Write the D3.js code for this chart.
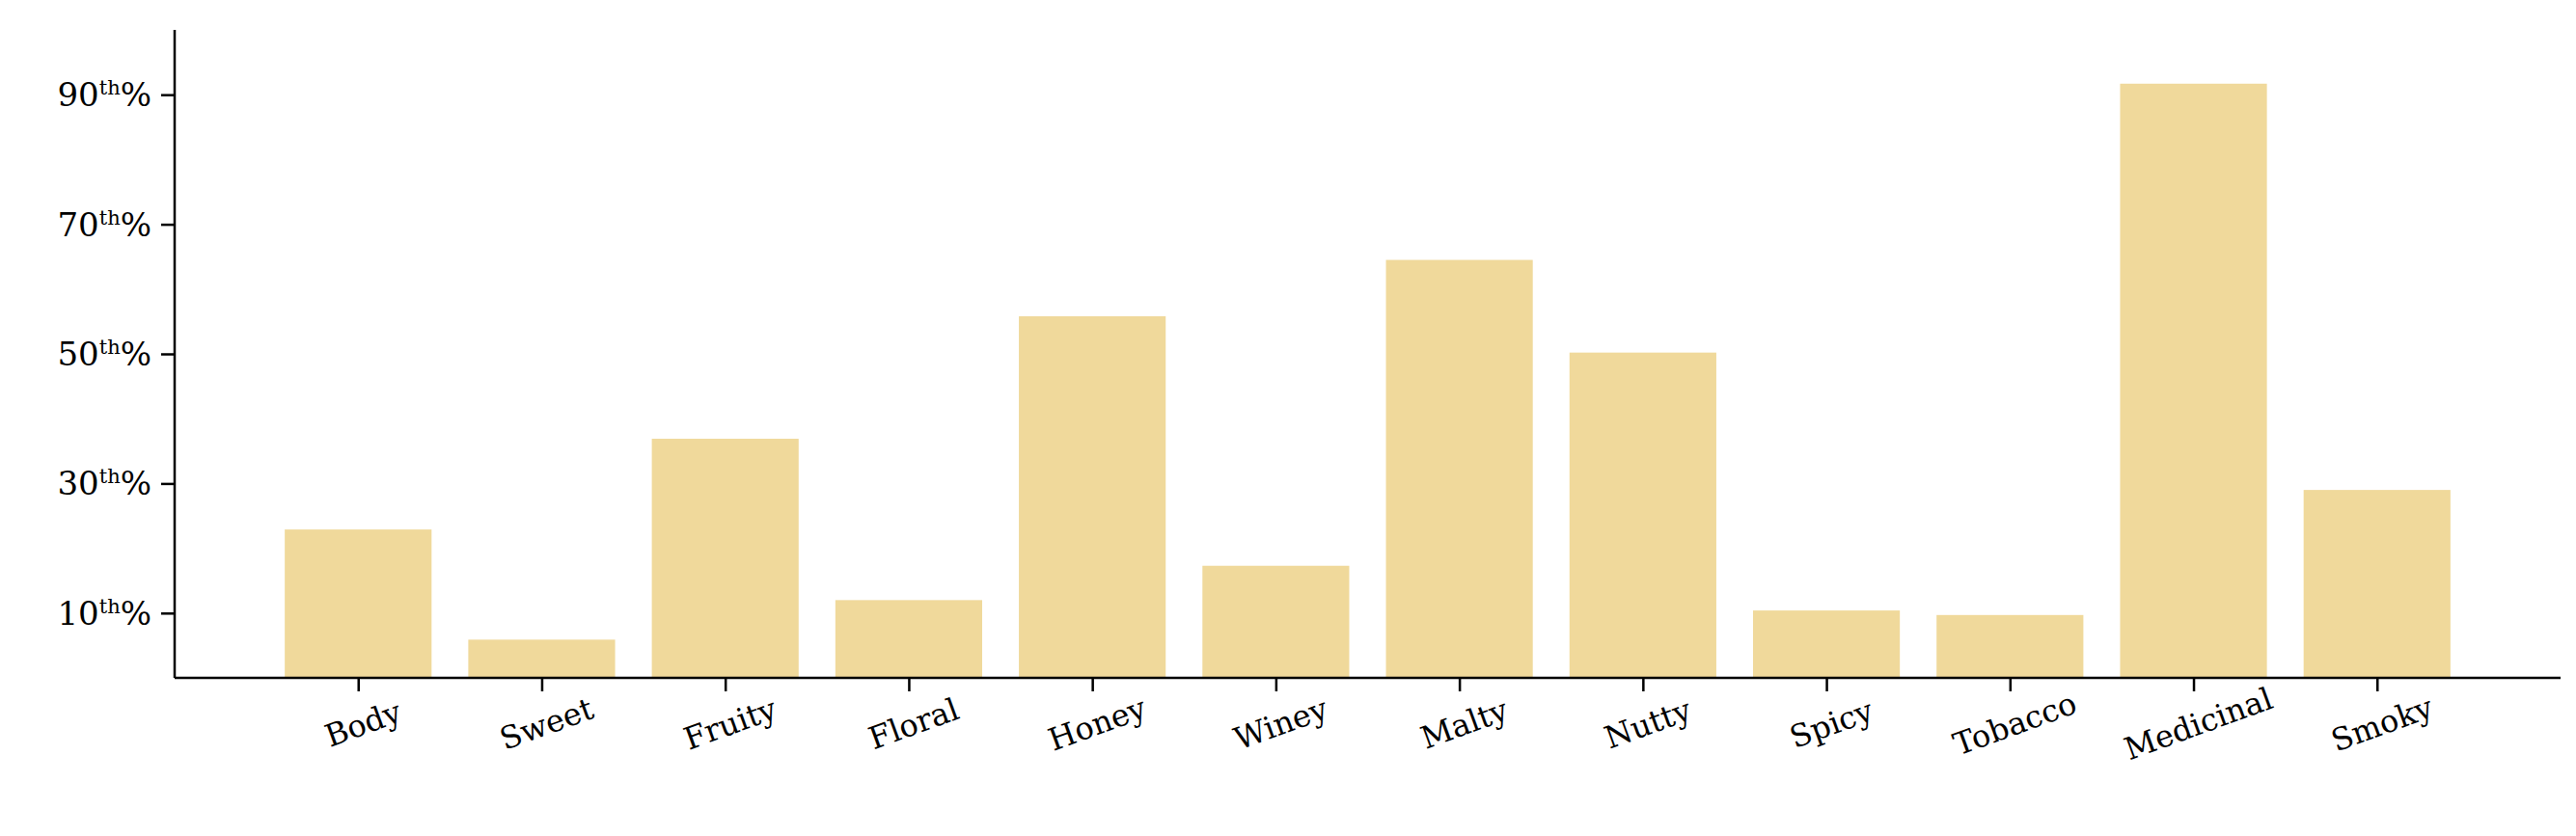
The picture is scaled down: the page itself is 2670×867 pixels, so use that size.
<!DOCTYPE html>
<html><head><meta charset="utf-8">
<script src="https://cdn.jsdelivr.net/npm/d3@7"></script>
<style>body{margin:0;background:#fff}</style>
</head><body>
<svg id="c" width="2670" height="867"></svg>
<script>
// flavour profile percentiles
var categories = ["Body","Sweet","Fruity","Floral","Honey","Winey","Malty","Nutty","Spicy","Tobacco","Medicinal","Smoky"];
var values = [22.9, 5.9, 36.9, 12.0, 55.8, 17.3, 64.5, 50.2, 10.4, 9.7, 91.7, 29.0];
var yTicks = [10, 30, 50, 70, 90];

var svg = d3.select("#c");
var font = "'DejaVu Serif', serif";
var x = d3.scaleLinear().domain([-1, 12]).range([181, 2654]);
var y = d3.scaleLinear().domain([0, 100]).range([703, 31]);
var bw = 0.8 * (x(1) - x(0));

svg.selectAll("rect.bar").data(values).enter().append("rect")
    .attr("x", function(d, i) { return x(i) - bw / 2; })
    .attr("y", function(d) { return y(d); })
    .attr("width", bw)
    .attr("height", function(d) { return y(0) - y(d); })
    .attr("fill", "#F0D99B");

//axes
var xAxis = d3.axisBottom(x).tickValues(d3.range(categories.length)).tickSize(14).tickFormat("");
var gx = svg.append("g").attr("transform", "translate(0," + y(0) + ")").call(xAxis);
var yAxis = d3.axisLeft(y).tickValues(yTicks).tickSize(14).tickFormat("");
var gy = svg.append("g").attr("transform", "translate(" + x(-1) + ",0)").call(yAxis);
[gx, gy].forEach(function(g) {
    g.select(".domain").attr("stroke-width", 2.5);
    g.selectAll(".tick line").attr("stroke-width", 2.5);
});
gx.select(".domain").attr("d", "M" + x(-1) + ",0H" + x(12));
gy.select(".domain").attr("d", "M0," + y(0) + "V" + y(100));

categories.forEach(function(c, i) {
    svg.append("text")
        .attr("transform", "translate(" + (x(i) + 6) + "," + (y(0) + 50) + ") rotate(-20)")
        .attr("text-anchor", "middle").attr("dominant-baseline", "middle")
        .attr("font-family", font).attr("font-size", 32).text(c);
});

yTicks.forEach(function(t) {
    var tx = svg.append("text")
        .attr("x", x(-1) - 24).attr("y", y(t) + 12)
        .attr("text-anchor", "end")
        .attr("font-family", font).attr("font-size", 34);
    tx.append("tspan").text(t);
    tx.append("tspan").attr("font-size", 21).attr("dy", -12).text("th");
    tx.append("tspan").attr("dy", 12).text("%");
});
</script>
</body></html>
